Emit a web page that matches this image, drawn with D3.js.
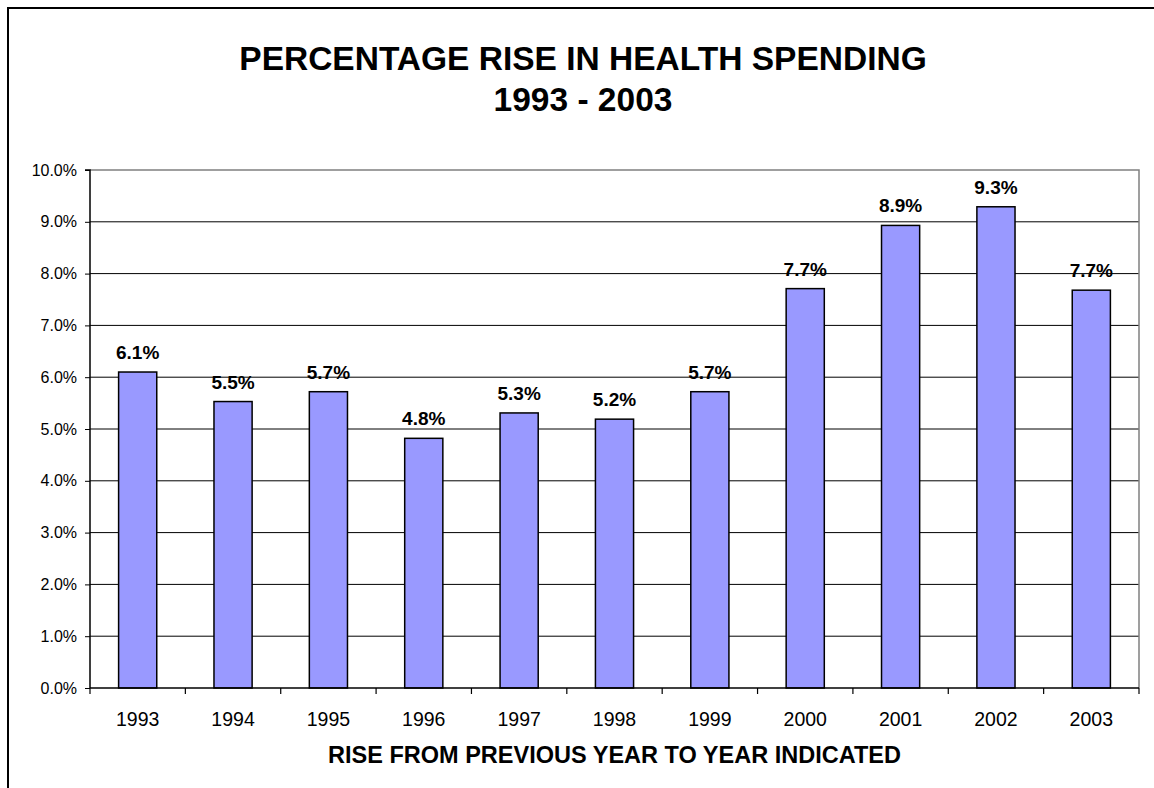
<!DOCTYPE html>
<html><head><meta charset="utf-8">
<script src="https://cdn.jsdelivr.net/npm/d3@7"></script>
<style>body{margin:0;background:#fff;}svg{display:block;font-family:Arial,"Liberation Sans",sans-serif;}</style>
</head><body>
<svg id="c" width="1154" height="788"></svg>
<script>
const categories = ["1993","1994","1995","1996","1997","1998","1999","2000","2001","2002","2003"];
const values = [6.1, 5.53, 5.72, 4.82, 5.31, 5.19, 5.72, 7.71, 8.93, 9.29, 7.68];
const labels = ["6.1%","5.5%","5.7%","4.8%","5.3%","5.2%","5.7%","7.7%","8.9%","9.3%","7.7%"];
const yTicks = [0,1,2,3,4,5,6,7,8,9,10];
const title1 = "PERCENTAGE RISE IN HEALTH SPENDING";
const title2 = "1993 - 2003";
const xTitle = "RISE FROM PREVIOUS YEAR TO YEAR INDICATED";

const svg = d3.select("#c");
const L = 90, R = 1139, T = 170, B = 688;

svg.append("rect").attr("x",8).attr("y",8).attr("width",1160).attr("height",800)
  .attr("fill","none").attr("stroke","#000").attr("stroke-width",2);

const x = d3.scaleBand().domain(categories).range([L,R]).paddingInner(0.6).paddingOuter(0.3);
const xb = d3.scaleBand().domain(categories).range([L,R]);
const y = d3.scaleLinear().domain([0,10]).range([B,T]);

// gridlines
svg.append("g").selectAll("line").data(yTicks.filter(d=>d>0&&d<10)).join("line")
  .attr("x1",L).attr("x2",R).attr("y1",d=>y(d)).attr("y2",d=>y(d))
  .attr("stroke","#000").attr("stroke-width",1);
// plot frame top/right gray
svg.append("path").attr("d",`M${L},${y(10)}H${R}V${B}`).attr("fill","none").attr("stroke","#808080").attr("stroke-width",1.5);

// bars
svg.append("g").selectAll("rect").data(values).join("rect")
  .attr("x",(d,i)=>x(categories[i])).attr("width",x.bandwidth())
  .attr("y",d=>y(d)).attr("height",d=>B-y(d))
  .attr("fill","#9999FF").attr("stroke","#000").attr("stroke-width",1.5);

// data labels
svg.append("g").selectAll("text").data(values).join("text")
  .attr("x",(d,i)=>x(categories[i])+x.bandwidth()/2).attr("y",d=>y(d)-13)
  .attr("text-anchor","middle").attr("font-weight","bold").attr("font-size",19)
  .text((d,i)=>labels[i]);

// y axis
const ya = svg.append("g").attr("transform",`translate(${L},0)`)
  .call(d3.axisLeft(y).tickValues(yTicks).tickSize(5).tickPadding(8).tickFormat(d=>d.toFixed(1)+"%"));
ya.select(".domain").attr("stroke","#000").attr("stroke-width",1.5).attr("d",`M-5,${y(10)}H0V${B}`);
ya.selectAll("text").attr("font-size",16).attr("font-family","Arial,'Liberation Sans',sans-serif").attr("fill","#000");

// x axis
const xa = svg.append("g").attr("transform",`translate(0,${B})`);
xa.append("line").attr("x1",L).attr("x2",R).attr("stroke","#000").attr("stroke-width",1.5);
xa.selectAll("line.t").data(categories.concat(["end"])).join("line").attr("class","t")
  .attr("x1",(d,i)=>i<categories.length?xb(d):R).attr("x2",(d,i)=>i<categories.length?xb(d):R)
  .attr("y1",0).attr("y2",6).attr("stroke","#000").attr("stroke-width",1.2);
xa.selectAll("text").data(categories).join("text")
  .attr("x",d=>xb(d)+xb.bandwidth()/2).attr("y",38)
  .attr("text-anchor","middle").attr("font-size",19.5).text(d=>d);

// titles
svg.append("text").attr("x",583).attr("y",70).attr("text-anchor","middle")
  .attr("font-weight","bold").attr("font-size",33.5).text(title1);
svg.append("text").attr("x",583).attr("y",111).attr("text-anchor","middle")
  .attr("font-weight","bold").attr("font-size",33.5).text(title2);
svg.append("text").attr("x",(L+R)/2).attr("y",763).attr("text-anchor","middle")
  .attr("font-weight","bold").attr("font-size",23.5).text(xTitle);
</script>
</body></html>
